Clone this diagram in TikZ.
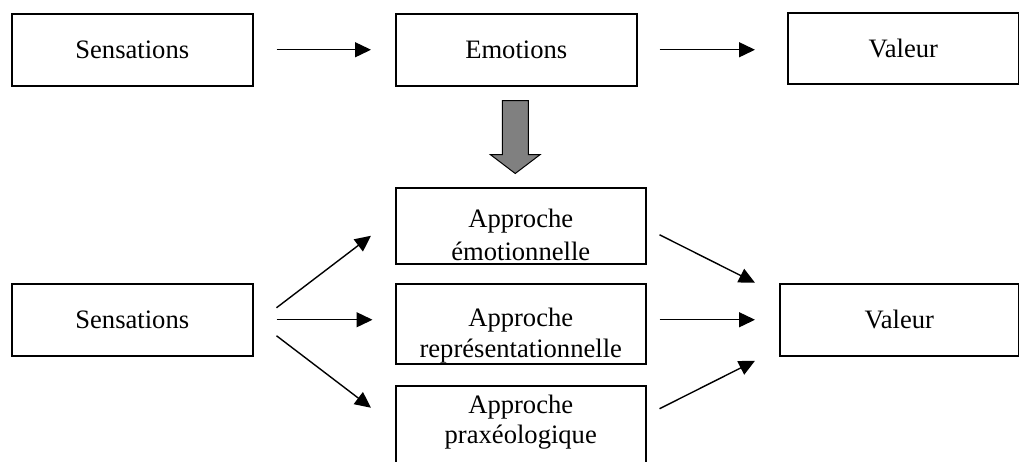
\documentclass[tikz,border=0pt]{standalone}
\usepackage{fontspec}
\setmainfont{Liberation Serif}
\usetikzlibrary{arrows.meta,calc}
\definecolor{arrgray}{RGB}{128,128,128}
\begin{document}
\begin{tikzpicture}[x=1pt,y=-1pt,
  box/.style={draw,line width=1.5pt,inner sep=0pt,anchor=north west,
    font=\fontsize{26.6}{31}\selectfont},
  lbl/.style={anchor=base,inner sep=0pt,font=\fontsize{26.6}{31}\selectfont},
  arr/.style={line width=1.4pt,-{Triangle[length=16pt,width=15pt]}}]
\useasboundingbox (0,0) rectangle (1019,461);
\clip (0,0) rectangle (1019,461);
% top row
\node[box,minimum width=241pt,minimum height=72pt] (s1) at (11,13) {Sensations};
\node[box,minimum width=241pt,minimum height=72pt] (e1) at (395,13) {Emotions};
\node[box,minimum width=231pt,minimum height=71pt] (v1) at (787,12) {Valeur};
\draw[arr,shorten <=23pt,shorten >=24pt] (s1.east) -- (e1.west);
\draw[arr,shorten <=22pt,shorten >=32pt] (e1.east) -- (e1.east -| v1.west);
% bottom row
\node[box,minimum width=241pt,minimum height=72pt] (s2) at (11,283) {Sensations};
\node[box,minimum width=239pt,minimum height=72pt] (v2) at (779,283) {Valeur};
\node[box,minimum width=250pt,minimum height=76pt] (a1) at (395,187) {};
\node[box,minimum width=250pt,minimum height=80pt] (a2) at (395,283) {};
\node[box,minimum width=250pt,minimum height=80pt] (a3) at (395,385) {};
\node[lbl] (a1t) at ($(a1.north)+(0,40)$) {Approche};
\node[lbl] (a1b) at ($(a1.north)+(0,73)$) {émotionnelle};
\node[lbl] (a2t) at ($(a2.north)+(0,43)$) {Approche};
\node[lbl] (a2b) at ($(a2.north)+(0,74)$) {représentationnelle};
\node[lbl] (a3t) at ($(a3.north)+(0,28)$) {Approche};
\node[lbl] (a3b) at ($(a3.north)+(0,58)$) {praxéologique};
% gray block arrow
\coordinate (g) at ($(e1.south)+(-1,14)$);
\draw[fill=arrgray,line width=1pt,line join=miter]
  ($(g)+(-13,0)$) -- ($(g)+(13,0)$) -- ($(g)+(13,54)$) -- ($(g)+(25,54)$)
  -- ($(g)+(0,73)$) -- ($(g)+(-25,54)$) -- ($(g)+(-13,54)$) -- cycle;
% left fan
\draw[arr] ($(s2.east)+(23,-12)$) -- ($(a1.west)+(-24,10)$);
\draw[arr] ($(s2.east)+(23,0)$) -- ($(s2.east)+(119,0)$);
\draw[arr] ($(s2.east)+(23,16)$) -- ($(a3.west)+(-24,-18)$);
% right fan
\draw[arr] ($(a1.east)+(13,9)$) -- ($(v2.west)+(-24,-37)$);
\draw[arr] ($(a2.east)+(13,-4)$) -- ($(v2.west)+(-24,0)$);
\draw[arr] ($(a3.east)+(13,-17)$) -- ($(v2.west)+(-24,41)$);
\end{tikzpicture}
\end{document}
